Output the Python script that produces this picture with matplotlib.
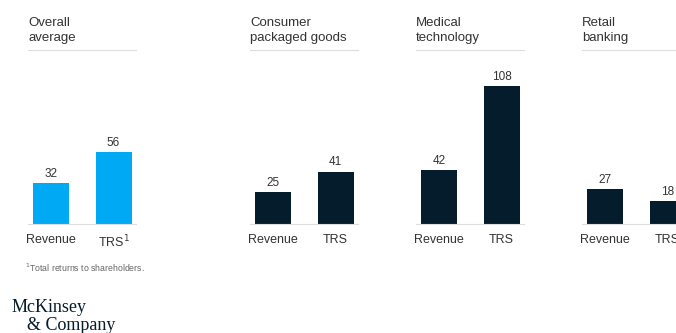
import matplotlib
matplotlib.use("Agg")
import matplotlib.pyplot as plt

# data
panels = ["Overall\naverage", "Consumer\npackaged goods", "Medical\ntechnology", "Retail\nbanking"]
categories = ["Revenue", "TRS"]
revenue = [32, 25, 42, 27]
trs = [56, 41, 108, 18]
tick_labels = [["Revenue", "TRS$^{1}$"], ["Revenue", "TRS"], ["Revenue", "TRS"], ["Revenue", "TRS"]]
colors = ["#00A9F4", "#051C2C", "#051C2C", "#051C2C"]

W, H = 676, 333
fig = plt.figure(figsize=(W / 100, H / 100), dpi=100)
plt.rcParams["font.family"] = ["Liberation Sans", "DejaVu Sans"]

panel_left = [28, 250, 416, 582]
panel_w = 108
top_px, base_px = 50, 224
px_per_unit = 1.278
text_col = "#333333"

for i, name in enumerate(panels):
    ax = fig.add_axes([panel_left[i] / W, 1 - base_px / H, panel_w / W, (base_px - top_px) / H])
    vals = [revenue[i], trs[i]]
    ax.bar([0, 1], vals, width=0.576, color=colors[i])
    ax.set_xlim(-0.368, 1.36)
    ax.set_ylim(0, (base_px - top_px) / px_per_unit)
    for x, v in zip([0, 1], vals):
        ax.annotate(str(v), (x, v), xytext=(0, 2.5), textcoords="offset points",
                    ha="center", va="bottom", fontsize=8.5, color=text_col)
    ax.set_xticks([0, 1])
    ax.set_xticklabels(tick_labels[i], fontsize=9, color=text_col)
    ax.tick_params(axis="x", length=0, pad=7)
    ax.set_yticks([])
    for s in ["left", "right"]:
        ax.spines[s].set_visible(False)
    ax.spines["top"].set_color("#dddddd")
    ax.spines["bottom"].set_color("#dddddd")
    ax.spines["top"].set_linewidth(0.8)
    ax.spines["bottom"].set_linewidth(0.8)
    ax.text(0, 1 + 6 / (base_px - top_px), name, transform=ax.transAxes, ha="left",
            va="bottom", fontsize=9.5, color=text_col, linespacing=1.3)

fig.text(25 / W, 1 - 268 / H, "$^{1}$Total returns to shareholders.", fontsize=6.3,
         color="#666666", va="center", ha="left")
fig.text(12 / W, 1 - 308 / H, "McKinsey", fontsize=13, family="Liberation Serif",
         color="#051C2C", va="center", ha="left")
fig.text(27 / W, 1 - 325 / H, "& Company", fontsize=13, family="Liberation Serif",
         color="#051C2C", va="center", ha="left")

fig.savefig("out.png", dpi=100)
